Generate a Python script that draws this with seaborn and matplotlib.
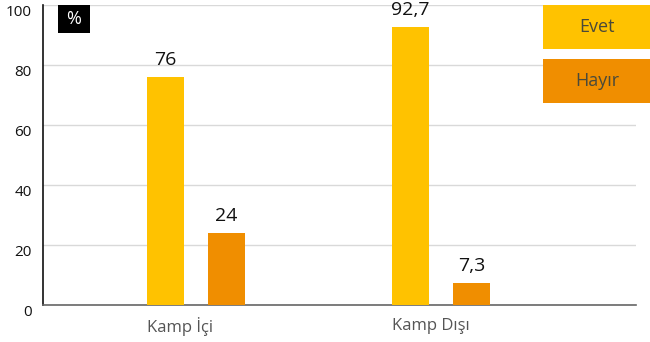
import matplotlib
matplotlib.use("Agg")
import matplotlib.pyplot as plt
import matplotlib.transforms as mtransforms
from matplotlib.patches import Rectangle
import pandas as pd
import seaborn as sns

# Survey answers by location (percent)
categories = ["Kamp İçi", "Kamp Dışı"]
answers = ["Evet", "Hayır"]
evet = [76, 92.7]
hayir = [24, 7.3]
y_ticks = [0, 20, 40, 60, 80, 100]
colors = {"Evet": "#FFC200", "Hayır": "#F08E00"}

df = pd.DataFrame({
    "kamp": categories * 2,
    "cevap": [answers[0]] * len(categories) + [answers[1]] * len(categories),
    "oran": evet + hayir,
})

sns.set_theme(style="white")
plt.rcParams["font.family"] = ["Open Sans", "DejaVu Sans"]

W, H = 650, 342
fig = plt.figure(figsize=(W / 100, H / 100), dpi=100)
ax = fig.add_axes([43 / W, 1 - 305 / H, (636 - 43) / W, 300 / H])

sns.barplot(data=df, x="kamp", y="oran", hue="cevap", order=categories,
            hue_order=answers, palette=colors, width=0.498, gap=0.393,
            saturation=1, legend=False, ax=ax, zorder=3, linewidth=0)

ax.set_xlim(-0.624, 1.796)
ax.set_ylim(0, 100)
ax.set_yticks(y_ticks)
ax.set_yticklabels([str(t) for t in y_ticks])
ax.grid(axis="y", color="#d9d9d9", linewidth=1, zorder=0)
ax.set_axisbelow(True)
ax.tick_params(axis="y", length=0, pad=8, labelsize=11, labelcolor="#111111")
# value labels on the y axis sit a little below their gridlines
shift = mtransforms.ScaledTranslation(0, -6 / 100, fig.dpi_scale_trans)
for lbl in ax.get_yticklabels():
    lbl.set_transform(lbl.get_transform() + shift)

# category labels start at the left edge of each group
ax.set_xticks([i - 0.2 for i in range(len(categories))])
ax.set_xticklabels(categories, ha="left")
ax.tick_params(axis="x", length=0, pad=9, labelsize=12, labelcolor="#555555")
ax.set_xlabel("")
ax.set_ylabel("")

for side in ("top", "right"):
    ax.spines[side].set_visible(False)
ax.spines["left"].set_color("#111111")
ax.spines["left"].set_linewidth(1.2)
ax.spines["bottom"].set_color("#666666")
ax.spines["bottom"].set_linewidth(1.2)

# value labels above each bar
for container in ax.containers:
    for bar in container:
        v = bar.get_height()
        txt = f"{v:g}".replace(".", ",")
        ax.annotate(txt, (bar.get_x() + bar.get_width() / 2, v),
                    xytext=(0, 6), textcoords="offset points",
                    ha="center", va="bottom", fontsize=14, color="#111111")

# unit badge
fig.patches.append(Rectangle((58 / W, 1 - 33 / H), 32 / W, 28 / H,
                             transform=fig.transFigure, facecolor="black",
                             edgecolor="none"))
fig.text(74 / W, 1 - 19 / H, "%", color="white", fontsize=13,
         ha="center", va="center")

# legend boxes in the upper right corner
for i, name in enumerate(answers):
    top = 5 + i * 54
    fig.patches.append(Rectangle((543 / W, 1 - (top + 44) / H), (W - 543) / W,
                                 44 / H, transform=fig.transFigure,
                                 facecolor=colors[name], edgecolor="none"))
    fig.text(597 / W, 1 - (top + 22) / H, name, color="#4a4a3a", fontsize=13,
             ha="center", va="center")

fig.savefig("out.png", dpi=100)
